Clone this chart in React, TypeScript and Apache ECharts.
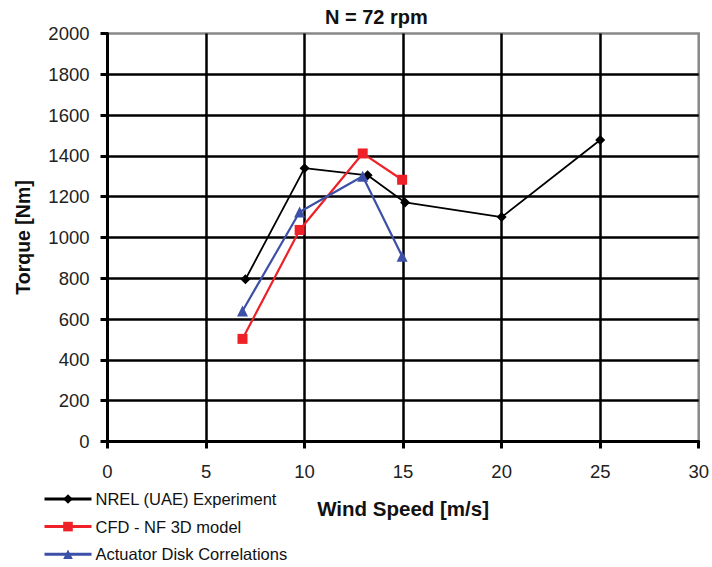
import React, { useEffect, useRef } from "react";
import * as echarts from "echarts";

const nrelX = [7, 10, 13.2, 15.1, 20, 25];
const nrelY = [795, 1340, 1305, 1172, 1100, 1478];
const cfdX = [6.85, 9.75, 12.95, 14.95];
const cfdY = [503, 1037, 1412, 1283];
const adX = [6.85, 9.75, 12.95, 14.95];
const adY = [640, 1125, 1300, 908];
const seriesNames = ["NREL (UAE) Experiment", "CFD - NF 3D model", "Actuator Disk Correlations"];

const pair = (xs: number[], ys: number[]) => xs.map((x, i) => [x, ys[i]]);

export default function App() {
  const ref = useRef<HTMLDivElement>(null);
  useEffect(() => {
    if (!ref.current) return;
    const chart = echarts.init(ref.current, null, { renderer: "svg" });
    const font = "Liberation Sans, Arial, sans-serif";
    chart.setOption({
      animation: false,
      backgroundColor: "#fff",
      textStyle: { fontFamily: font },
      title: {
        text: "N = 72 rpm",
        left: 325,
        top: 7,
        padding: 0,
        textStyle: { fontFamily: font, fontSize: 20, fontWeight: "bold", color: "#111" },
      },
      grid: {
        left: 107.5,
        right: 13,
        top: 33.5,
        bottom: 125.5,
        show: true,
        borderColor: "#888",
        borderWidth: 2.5,
        backgroundColor: "transparent",
      },
      legend: {
        orient: "vertical",
        left: 43,
        top: 490,
        height: 76,
        padding: 0,
        itemWidth: 47,
        itemHeight: 12,
        itemGap: 9.6,
        data: seriesNames,
        lineStyle: { width: 3 },
        textStyle: { fontFamily: font, fontSize: 16.5, color: "#111", lineHeight: 18, padding: [0, 0, 0, -1] },
      },
      xAxis: {
        type: "value",
        min: 0,
        max: 30,
        interval: 5,
        name: "Wind Speed [m/s]",
        nameLocation: "middle",
        nameGap: 56,
        nameTextStyle: { fontFamily: font, fontSize: 20.5, fontWeight: "bold", color: "#111" },
        axisLine: { show: true, onZero: false, lineStyle: { color: "#000", width: 3 } },
        axisTick: { show: true, inside: false, length: 7, lineStyle: { color: "#000", width: 3 } },
        axisLabel: { fontFamily: font, fontSize: 18.5, color: "#222", margin: 20 },
        splitLine: { show: true, showMaxLine: false, lineStyle: { color: "#000", width: 2.5 } },
      },
      yAxis: {
        type: "value",
        min: 0,
        max: 2000,
        interval: 200,
        name: "Torque [Nm]",
        nameLocation: "middle",
        nameGap: 75,
        nameTextStyle: { fontFamily: font, fontSize: 19.5, fontWeight: "bold", color: "#111" },
        axisLine: { show: true, onZero: false, lineStyle: { color: "#000", width: 3 } },
        axisTick: { show: true, inside: false, length: 7, lineStyle: { color: "#000", width: 3 } },
        axisLabel: {
          fontFamily: font,
          fontSize: 18.5,
          color: "#222",
          margin: 18,
          formatter: (v: number) => String(v),
        },
        splitLine: { show: true, showMaxLine: false, lineStyle: { color: "#000", width: 2.5 } },
      },
      series: [
        {
          name: seriesNames[0],
          type: "line",
          data: pair(nrelX, nrelY),
          symbol: "diamond",
          symbolSize: 10,
          itemStyle: { color: "#000" },
          lineStyle: { color: "#000", width: 1.8 },
          z: 3,
        },
        {
          name: seriesNames[1],
          type: "line",
          data: pair(cfdX, cfdY),
          symbol: "rect",
          symbolSize: 10,
          itemStyle: { color: "#ee2128" },
          lineStyle: { color: "#ee2128", width: 2.2 },
          z: 4,
        },
        {
          name: seriesNames[2],
          type: "line",
          data: pair(adX, adY),
          symbol: "triangle",
          symbolSize: 11,
          itemStyle: { color: "#3d50a8" },
          lineStyle: { color: "#3d50a8", width: 2.2 },
          z: 5,
        },
      ],
    });
    return () => chart.dispose();
  }, []);
  return (
    <div
      ref={ref}
      style={{ position: "fixed", left: 0, top: 0, width: 712, height: 567, background: "#fff" }}
    />
  );
}
